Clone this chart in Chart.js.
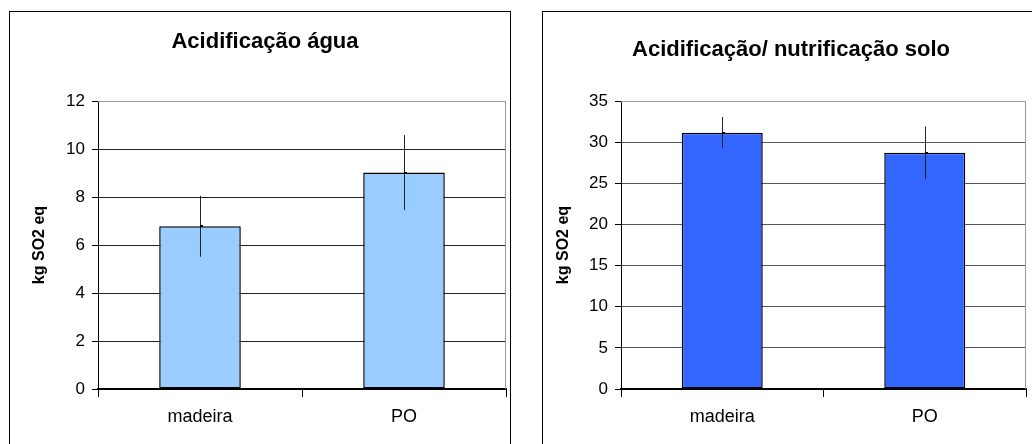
<!DOCTYPE html>
<html>
<head>
<meta charset="utf-8">
<script src="https://cdn.jsdelivr.net/npm/chart.js@4.4.1/dist/chart.umd.min.js"></script>
<style>
  html, body { margin: 0; padding: 0; background: #fff; width: 1032px; height: 444px; overflow: hidden; }
  .frame { position: absolute; border: 1px solid #000; box-sizing: border-box; }
  canvas { position: absolute; top: 0; }
</style>
</head>
<body>
<div class="frame" style="left:9px; top:11px; width:502px; height:460px;"></div>
<div class="frame" style="left:542px; top:11px; width:520px; height:460px;"></div>
<canvas id="c1" width="508" height="444" style="left:0px;"></canvas>
<canvas id="c2" width="512" height="444" style="left:520px;"></canvas>
<script>
const categories = ['madeira', 'PO'];
const aguaTitle = 'Acidificação água';
const soloTitle = 'Acidificação/ nutrificação solo';
const yAxisTitle = 'kg SO2 eq';
const aguaValues = [6.78, 9.02];
const aguaErrors = [1.27, 1.56];
const soloValues = [31.15, 28.7];
const soloErrors = [1.9, 3.2];
const aguaTicks = { min: 0, max: 12, step: 2 };
const soloTicks = { min: 0, max: 35, step: 5 };

const FONT = "'Liberation Sans', Arial, sans-serif";

const errorBarPlugin = {
  id: 'errorBars',
  afterDatasetsDraw(chart, args, opts) {
    const ctx = chart.ctx;
    const meta = chart.getDatasetMeta(0);
    const y = chart.scales.y;
    const errs = opts.errors || [];
    const vals = chart.data.datasets[0].data;
    ctx.save();
    meta.data.forEach((bar, i) => {
      const x = Math.round(bar.x) + 0.5;
      const yTop = y.getPixelForValue(vals[i] + errs[i]);
      const yBot = y.getPixelForValue(vals[i] - errs[i]);
      ctx.strokeStyle = '#222';
      ctx.lineWidth = 1;
      ctx.beginPath();
      ctx.moveTo(x, yTop);
      ctx.lineTo(x, yBot);
      ctx.stroke();
      ctx.fillStyle = '#000';
      ctx.fillRect(Math.round(bar.x), Math.round(bar.y) - 1, 3, 2);
    });
    ctx.restore();
  }
};

const frameLinePlugin = {
  id: 'plotFrame',
  afterDraw(chart) {
    const a = chart.chartArea;
    const ctx = chart.ctx;
    ctx.save();
    ctx.strokeStyle = '#999';
    ctx.lineWidth = 1;
    ctx.beginPath();
    ctx.moveTo(a.left, Math.round(a.top) + 0.5);
    ctx.lineTo(Math.round(a.right) - 0.5, Math.round(a.top) + 0.5);
    ctx.lineTo(Math.round(a.right) - 0.5, a.bottom);
    ctx.stroke();
    ctx.restore();
  }
};

function makeChart(id, opts) {
  return new Chart(document.getElementById(id), {
    type: 'bar',
    data: {
      labels: categories,
      datasets: [{
        data: opts.values,
        backgroundColor: opts.color,
        borderColor: '#000',
        borderWidth: 1.5,
        borderSkipped: false,
        barPercentage: 0.4,
        categoryPercentage: 1.0
      }]
    },
    options: {
      responsive: false,
      animation: false,
      devicePixelRatio: 1,
      layout: { padding: { left: opts.padLeft, right: opts.padRight, top: 0, bottom: 0 } },
      plugins: {
        legend: { display: false },
        tooltip: { enabled: false },
        title: {
          display: true,
          text: opts.title,
          color: '#000',
          font: { family: FONT, size: 22, weight: 'bold', lineHeight: 1.2 },
          padding: { top: opts.titleTop, bottom: 101 - opts.titleTop - 26.4 }
        },
        errorBars: { errors: opts.errors }
      },
      scales: {
        x: {
          grid: { display: true, offset: true, drawOnChartArea: false, drawTicks: true, tickLength: 8, color: '#000' },
          border: { display: true, color: '#000', width: 2 },
          ticks: { color: '#000', font: { family: FONT, size: 18 }, padding: 9 },
          afterFit(scale) { scale.height = 55; }
        },
        y: {
          min: opts.ticks.min,
          max: opts.ticks.max,
          grid: {
            color: (c) => (c.tick && c.tick.value === opts.ticks.max) ? '#999' : opts.gridColor,
            tickColor: '#000',
            tickLength: 6,
            drawTicks: true
          },
          border: { display: true, color: '#000', width: 1 },
          ticks: { stepSize: opts.ticks.step, color: '#000', font: { family: FONT, size: 17 }, padding: 7 },
          title: {
            display: true,
            text: yAxisTitle,
            color: '#000',
            font: { family: FONT, size: 16, weight: 'bold', lineHeight: 1.0 },
            padding: { top: opts.yTitlePad, bottom: 0 }
          },
          afterFit(scale) { scale.width = opts.yWidth; }
        }
      }
    },
    plugins: [errorBarPlugin, frameLinePlugin]
  });
}

makeChart('c1', {
  values: aguaValues, errors: aguaErrors, color: '#99CCFF', title: aguaTitle,
  padLeft: 24, padRight: 2, titleTop: 29, yWidth: 74, yTitlePad: 8,
  ticks: aguaTicks, gridColor: '#222'
});
makeChart('c2', {
  values: soloValues, errors: soloErrors, color: '#3366FF', title: soloTitle,
  padLeft: 36, padRight: 6, titleTop: 37, yWidth: 65, yTitlePad: 0,
  ticks: soloTicks, gridColor: '#555'
});
</script>
</body>
</html>
